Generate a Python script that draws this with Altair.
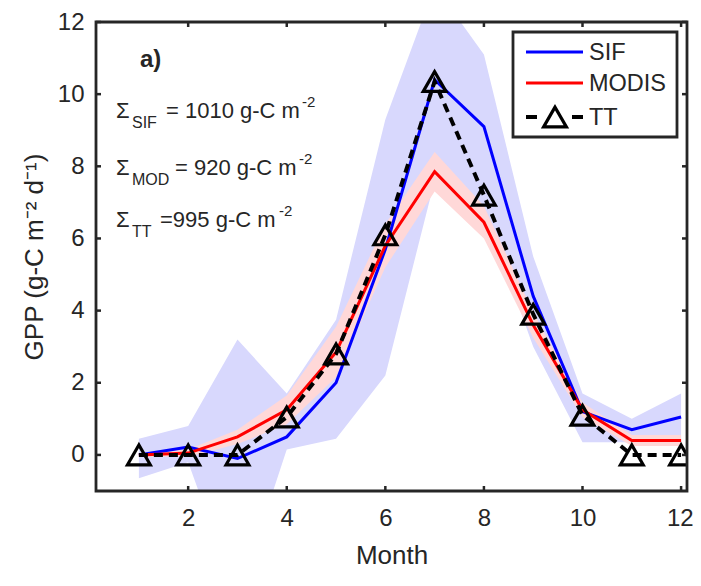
import altair as alt
import pandas as pd

months = list(range(1, 13))
sif = [0.0, 0.22, -0.1, 0.5, 2.0, 5.7, 10.4, 9.1, 4.4, 1.2, 0.7, 1.05]
sif_hi = [0.45, 0.8, 3.2, 1.7, 3.75, 9.3, 13.0, 11.1, 5.5, 1.7, 1.0, 1.7]
sif_lo = [-0.65, -0.2, -4.0, 0.15, 0.45, 2.2, 7.6, 6.8, 3.0, 0.35, 0.35, 0.35]
modis = [0.0, 0.05, 0.5, 1.25, 2.85, 5.8, 7.85, 6.45, 3.6, 1.25, 0.4, 0.4]
modis_sd = [0.05, 0.1, 0.2, 0.4, 0.7, 0.6, 0.55, 0.45, 0.35, 0.2, 0.15, 0.15]
tt = [0.0, 0.0, 0.0, 1.05, 2.8, 6.1, 10.35, 7.2, 3.9, 1.1, 0.0, 0.0]

x_ticks = [2, 4, 6, 8, 10, 12]
y_ticks = [0, 2, 4, 6, 8, 10, 12]

annot_sub = ["SIF", "MOD", "TT"]
annot_main = ["= 1010 g-C m", "= 920 g-C m", "=995 g-C m"]

W, H = 591, 469
FONT = "Liberation Sans"
DARK = "#262626"

df = pd.DataFrame({
    "month": months, "sif": sif, "sif_hi": sif_hi, "sif_lo": sif_lo,
    "modis": modis,
    "mod_hi": [m + s for m, s in zip(modis, modis_sd)],
    "mod_lo": [m - s for m, s in zip(modis, modis_sd)],
    "tt": tt,
})

xs = alt.Scale(domain=[0.13, 12.12], nice=False, zero=False)
ys = alt.Scale(domain=[-1, 12], nice=False, zero=False)

base = alt.Chart(df)
X = alt.X("month:Q", scale=xs, axis=alt.Axis(values=x_ticks, title="Month", grid=False,
          ticks=False, domain=False, labelFontSize=24, titleFontSize=26,
          labelPadding=15, titlePadding=12, labelColor=DARK, titleColor=DARK,
          labelFont=FONT, titleFont=FONT, titleFontWeight="normal",
          labelFlush=10, labelFlushOffset=12))
Yax = alt.Axis(values=y_ticks, title="GPP (g-C m⁻² d⁻¹)", grid=False, ticks=False,
               domain=False, labelFontSize=24, titleFontSize=26, labelPadding=12,
               titlePadding=10, labelColor=DARK, titleColor=DARK, labelFont=FONT,
               titleFont=FONT, titleFontWeight="normal")

band_sif = base.mark_area(color="#d8d8fd", opacity=1, clip=True).encode(
    x=X, y=alt.Y("sif_lo:Q", scale=ys, axis=Yax), y2="sif_hi:Q")
band_mod = base.mark_area(color="#ffd8d8", opacity=1, clip=True).encode(
    x="month:Q", y="mod_lo:Q", y2="mod_hi:Q")
line_sif = base.mark_line(color="#0000ff", strokeWidth=3, clip=True).encode(
    x="month:Q", y="sif:Q")
line_mod = base.mark_line(color="#ff0000", strokeWidth=3, clip=True).encode(
    x="month:Q", y="modis:Q")
line_tt = base.mark_line(color="black", strokeWidth=4, strokeDash=[9, 6], clip=True).encode(
    x="month:Q", y="tt:Q")
pts_tt = base.mark_point(shape="triangle-up", size=520, filled=False, color="black",
                         strokeWidth=3.2, opacity=1, clip=True).encode(
    x="month:Q", y="tt:Q")

one = alt.Chart(pd.DataFrame({"a": [0]}))

# box frame and inward ticks
frame = one.mark_rect(filled=False, stroke=DARK, strokeWidth=2.8).encode(
    x=alt.value(0), x2=alt.value(W), y=alt.value(0), y2=alt.value(H))
xt = alt.Chart(pd.DataFrame({"t": x_ticks}))
yt = alt.Chart(pd.DataFrame({"t": y_ticks}))
tick_style = dict(color=DARK, strokeWidth=2.5)
ticks = [
    xt.mark_rule(**tick_style).encode(x="t:Q", y=alt.value(H), y2=alt.value(H - 5)),
    xt.mark_rule(**tick_style).encode(x="t:Q", y=alt.value(0), y2=alt.value(5)),
    yt.mark_rule(**tick_style).encode(y="t:Q", x=alt.value(0), x2=alt.value(5)),
    yt.mark_rule(**tick_style).encode(y="t:Q", x=alt.value(W), x2=alt.value(W - 5)),
]

# annotations
txt = dict(font=FONT, color=DARK, align="left", baseline="alphabetic")
ann = [one.mark_text(text="a)", fontSize=24, fontWeight="bold", **txt).encode(
    x=alt.value(44), y=alt.value(45))]
base_y = [96, 153, 205]
main_x = [70, 79, 64]
sup_x = [206, 203, 183]
for i in range(3):
    by = base_y[i]
    ann.append(one.mark_text(text="Σ", fontSize=22, **txt).encode(
        x=alt.value(20), y=alt.value(by)))
    ann.append(one.mark_text(text=annot_sub[i], fontSize=16, **txt).encode(
        x=alt.value(36), y=alt.value(by + 10)))
    ann.append(one.mark_text(text=annot_main[i], fontSize=22, **txt).encode(
        x=alt.value(main_x[i]), y=alt.value(by)))
    ann.append(one.mark_text(text="-2", fontSize=15, **txt).encode(
        x=alt.value(sup_x[i]), y=alt.value(by - 11)))

# legend
leg = [
    one.mark_rect(fill="white", stroke=DARK, strokeWidth=2.8).encode(
        x=alt.value(417), x2=alt.value(581), y=alt.value(10), y2=alt.value(115)),
    one.mark_rule(color="#0000ff", strokeWidth=3).encode(
        x=alt.value(430), x2=alt.value(487), y=alt.value(30)),
    one.mark_rule(color="#ff0000", strokeWidth=3).encode(
        x=alt.value(430), x2=alt.value(487), y=alt.value(61)),
    one.mark_rule(color="black", strokeWidth=4).encode(
        x=alt.value(430), x2=alt.value(441), y=alt.value(95)),
    one.mark_rule(color="black", strokeWidth=4).encode(
        x=alt.value(476), x2=alt.value(487), y=alt.value(95)),
    one.mark_point(shape="triangle-up", size=520, filled=False, color="black",
                   strokeWidth=3.2, opacity=1).encode(x=alt.value(459), y=alt.value(95)),
]
leg_labels = ["SIF", "MODIS", "TT"]
leg_y = [30, 61, 95]
for lab, yy in zip(leg_labels, leg_y):
    leg.append(one.mark_text(text=lab, fontSize=23.5, font=FONT, color=DARK, align="left",
                             baseline="middle").encode(x=alt.value(493), y=alt.value(yy + 1)))

chart = alt.layer(band_sif, band_mod, line_sif, line_mod, line_tt, pts_tt,
                  *ticks, frame, *ann, *leg).properties(
    width=W, height=H,
    autosize=alt.AutoSizeParams(type="none"),
    padding={"left": 88, "top": 14, "right": 6, "bottom": 87},
).configure_view(stroke=None).configure(background="white")

chart.save("out.html", embed_options={"renderer": "svg", "actions": False})
